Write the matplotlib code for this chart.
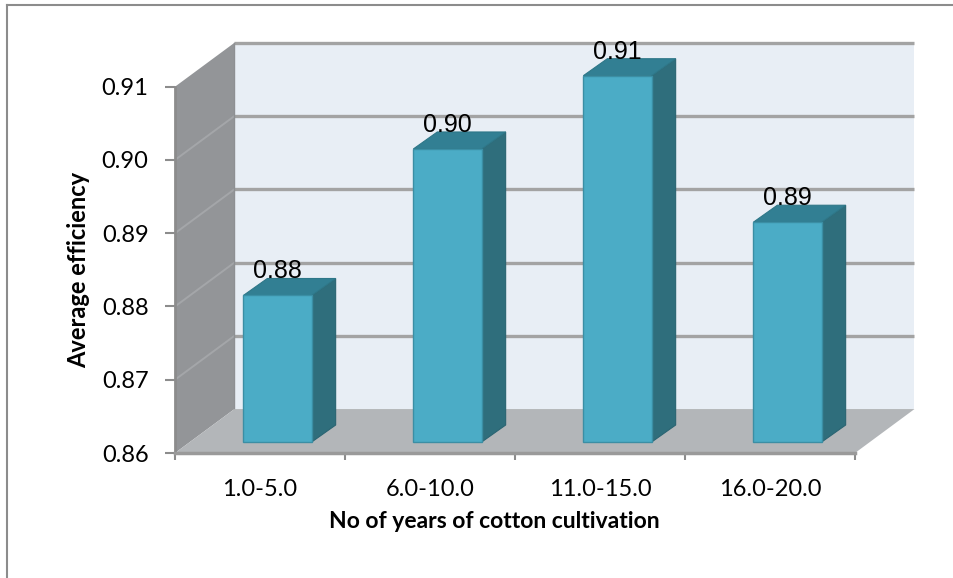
import matplotlib
matplotlib.use("Agg")
import matplotlib.pyplot as plt
from matplotlib.patches import Polygon
from matplotlib.lines import Line2D

# data
categories = ["1.0-5.0", "6.0-10.0", "11.0-15.0", "16.0-20.0"]
efficiency = [0.88, 0.90, 0.91, 0.89]
value_labels = ["0.88", "0.90", "0.91", "0.89"]
yticks = [0.86, 0.87, 0.88, 0.89, 0.90, 0.91]

# colours (excel 2007 style 3d column)
FRONT = "#4BACC6"
SIDE = "#2F6E7C"
TOP = "#327F93"
EDGE = "#3B8EA4"
WALL_BACK = "#E8EEF5"
WALL_LEFT = "#939598"
FLOOR = "#B3B6B9"
GRID = "#A3A3A3"

YMIN, YMAX = 0.86, 0.91
DX, DY = 0.35, 0.0060        # depth of the walls
FDX, FDY = 0.103, 0.0015     # front plane of the bars
BDX, BDY = 0.141, 0.00232    # depth of a bar
BW = 0.402

fig = plt.figure(figsize=(9.54, 5.78), dpi=100)
ax = fig.add_axes([175 / 954, 125 / 578, 680 / 954, 366.3 / 578])
ax.set_xlim(0, len(categories))
ax.set_ylim(YMIN, YMAX)

# walls and floor
ax.add_patch(Polygon([(DX, YMIN + DY), (len(categories) + DX, YMIN + DY),
                      (len(categories) + DX, YMAX + DY), (DX, YMAX + DY)],
                     closed=True, fc=WALL_BACK, ec="none", clip_on=False, zorder=1))
ax.add_patch(Polygon([(0, YMIN), (DX, YMIN + DY), (DX, YMAX + DY), (0, YMAX)],
                     closed=True, fc=WALL_LEFT, ec="none", clip_on=False, zorder=1))
for v in yticks[1:]:
    ax.plot([DX, len(categories) + DX], [v + DY, v + DY], color=GRID, lw=2.4,
            clip_on=False, zorder=2, solid_capstyle="butt")
    if v < YMAX:
        ax.plot([0, DX], [v, v + DY], color="#A4A6A9", lw=1.4, clip_on=False, zorder=2)
ax.add_patch(Polygon([(0, YMIN), (len(categories), YMIN),
                      (len(categories) + DX, YMIN + DY), (DX, YMIN + DY)],
                     closed=True, fc=FLOOR, ec="none", clip_on=False, zorder=3))
ax.plot([DX, DX], [YMIN + DY, YMAX + DY], color="#8E9093", lw=1, clip_on=False, zorder=2)

# bars
x0s = [i + 0.5 - BW / 2 + FDX for i in range(len(categories))]
ax.bar(x0s, [v - YMIN for v in efficiency], width=BW, bottom=YMIN + FDY, align="edge",
       color=FRONT, edgecolor=EDGE, linewidth=1, zorder=5, clip_on=False)
for x0, v, lab in zip(x0s, efficiency, value_labels):
    top = v + FDY
    ax.add_patch(Polygon([(x0 + BW, YMIN + FDY), (x0 + BW + BDX, YMIN + FDY + BDY),
                          (x0 + BW + BDX, top + BDY), (x0 + BW, top)],
                         closed=True, fc=SIDE, ec="#2A6472", lw=0.8, clip_on=False, zorder=4))
    ax.add_patch(Polygon([(x0, top), (x0 + BW, top), (x0 + BW + BDX, top + BDY),
                          (x0 + BDX, top + BDY)],
                         closed=True, fc=TOP, ec="#2E7788", lw=0.8, clip_on=False, zorder=4))
    ax.text(x0 + BW / 2, top + BDY, lab, ha="center", va="baseline",
            fontsize=18, family="Liberation Sans", color="black", zorder=6)

# axes
for s in ["top", "right"]:
    ax.spines[s].set_visible(False)
ax.spines["left"].set_color("#8C8C8C")
ax.spines["left"].set_linewidth(2)
ax.spines["bottom"].set_color("#9A9A9A")
ax.spines["bottom"].set_linewidth(2.5)
ax.spines["left"].set_zorder(4)
ax.spines["bottom"].set_zorder(4)

ax.set_yticks(yticks)
ax.set_yticklabels(["%.2f" % t for t in yticks])
ax.tick_params(axis="y", length=7, width=1.5, color="#8C8C8C", pad=12,
               labelsize=17, labelfontfamily="Lato")
ax.set_xticks(range(len(categories) + 1))
ax.set_xticklabels([""] * (len(categories) + 1))
ax.tick_params(axis="x", length=5, width=1.5, color="#8C8C8C")
ax.set_xticks([i + 0.5 for i in range(len(categories))], minor=True)
ax.set_xticklabels(categories, minor=True)
ax.tick_params(axis="x", which="minor", length=0, pad=19, labelsize=17,
               labelfontfamily="Lato")

ax.set_ylabel("Average efficiency", fontsize=17, fontweight="bold", family="Lato")
ax.yaxis.set_label_coords(-0.125, 0.5)
ax.set_xlabel("No of years of cotton cultivation", fontsize=16.5, fontweight="bold", family="Lato")
ax.xaxis.set_label_coords(0.469, -0.158)

# outer frame (only left and top are visible in the original)
fig.add_artist(Line2D([7 / 954, 7 / 954], [0, 1 - 5 / 578], color="#8C8C8C", lw=1.5))
fig.add_artist(Line2D([7 / 954, 1], [1 - 5 / 578, 1 - 5 / 578], color="#8C8C8C", lw=1.5))

fig.savefig("out.png", dpi=100)
